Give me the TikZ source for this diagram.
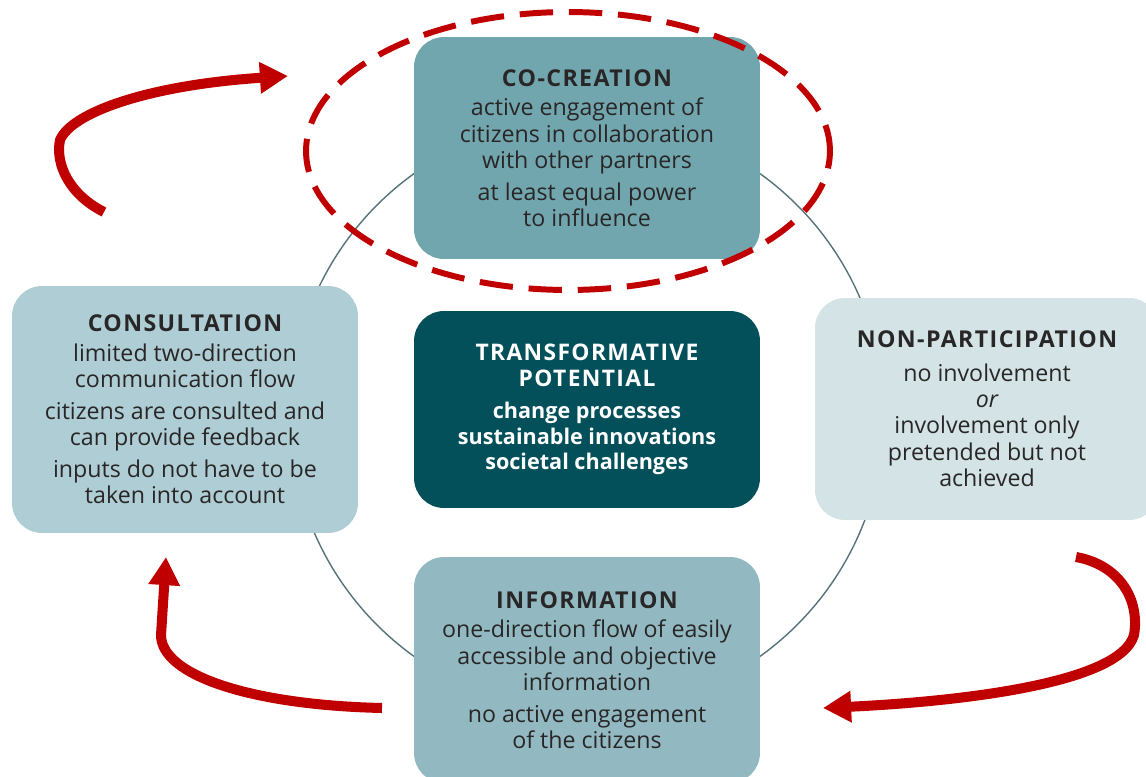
\documentclass[tikz,border=0pt]{standalone}
\usepackage{fontspec}
\setmainfont{Open Sans}
\usetikzlibrary{arrows.meta,shapes.geometric}
\definecolor{cocre}{RGB}{114,166,174}
\definecolor{consul}{RGB}{175,205,212}
\definecolor{nonpart}{RGB}{211,227,230}
\definecolor{inform}{RGB}{146,185,193}
\definecolor{transf}{RGB}{3,79,90}
\definecolor{ringc}{RGB}{85,115,120}
\definecolor{txt}{RGB}{40,38,38}
\definecolor{redc}{RGB}{192,0,0}
\newcommand{\boxtitle}[1]{{\bfseries\addfontfeatures{LetterSpace=6}#1}}
\begin{document}
\begin{tikzpicture}[x=0.02cm,y=-0.02cm,
  box/.style={rounded corners=0.6cm, inner sep=0pt, align=center, text=txt,
    font=\fontsize{13.2}{15}\selectfont},
  redarrow/.style={draw=redc, line width=5.7pt, -{Triangle[length=16pt,width=17pt]}}]
\useasboundingbox (0,0) rectangle (1146,777);
\clip (0,0) rectangle (1146,777);
% ring
\draw[ringc, line width=0.8pt] (587,415) circle[radius=5.94cm];
% boxes
\node[box, fill=cocre, minimum width=6.92cm, minimum height=4.44cm] (cocreation) at (587,148)
 {\boxtitle{CO-CREATION}\\[2pt] active engagement of\\ citizens in collaboration\\ with other partners\\[3pt] at least equal power\\ to influence};
\node[box, fill=consul, minimum width=6.92cm, minimum height=4.94cm] (consultation) at (185,409.5)
 {\boxtitle{CONSULTATION}\\[2pt] limited two-direction\\ communication flow\\[3pt] citizens are consulted and\\ can provide feedback\\[3pt] inputs do not have to be\\ taken into account};
\node[box, fill=transf, text=white, minimum width=6.92cm, minimum height=3.94cm,
  font=\fontsize{12.3}{14.5}\selectfont\bfseries] (transformative) at (587,409.5)
 {\boxtitle{\fontsize{13}{14.5}\selectfont TRANSFORMATIVE}\\ \boxtitle{\fontsize{13}{14.5}\selectfont POTENTIAL}\\[4pt] change processes\\ sustainable innovations\\ societal challenges};
\node[box, fill=nonpart, minimum width=6.88cm, minimum height=4.44cm] (nonparticipation) at (987,409)
 {\boxtitle{NON-PARTICIPATION}\\[4pt] no involvement\\ \itshape or\\ involvement only\\ pretended but not\\ achieved};
\node[box, fill=inform, minimum width=6.92cm, minimum height=4.52cm] (information) at (587,670)
 {\boxtitle{INFORMATION}\\[2pt] one-direction flow of easily\\ accessible and objective\\ information\\[3pt] no active engagement\\ of the citizens};
% dashed focus ellipse
\node[ellipse, draw=redc, line width=3.4pt, dash pattern=on 19pt off 9pt, dash phase=4pt,
  minimum width=10.48cm, minimum height=5.56cm, inner sep=0pt] (focus) at (568,151) {};
% arrows
\coordinate (a1s) at (104,212);
\coordinate (a1e) at (288,76);
\coordinate (a2s) at (382,708);
\coordinate (a2e) at (166,557);
\coordinate (a3s) at (1076,557);
\coordinate (a3e) at (823,708);
\draw[redarrow] (a1s) .. controls (70,195) and (55,165) .. (60,140)
  .. controls (72,112) and (150,85) .. (a1e);
\draw[redarrow] (a2s) .. controls (250,705) and (161,675) .. (161,635)
  -- (a2e);
\draw[redarrow] (a3s) .. controls (1120,565) and (1140,600) .. (1134,635)
  .. controls (1120,685) and (950,702) .. (a3e);
\end{tikzpicture}
\end{document}
